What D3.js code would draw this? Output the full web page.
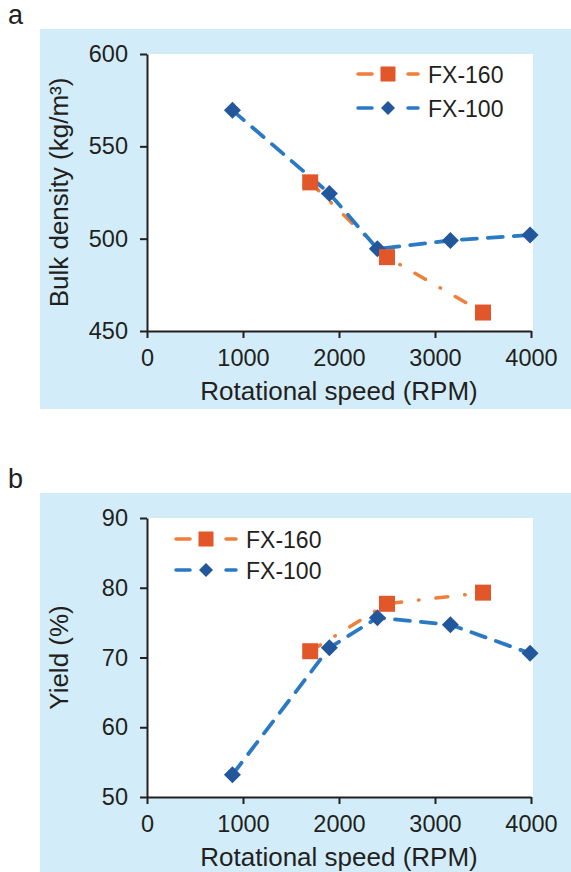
<!DOCTYPE html>
<html>
<head>
<meta charset="utf-8">
<script src="https://cdn.jsdelivr.net/npm/d3@7"></script>
<style>
  html, body { margin: 0; padding: 0; background: #ffffff; }
  svg { display: block; }
  text { font-family: "Liberation Sans", Arial, Helvetica, sans-serif; fill: #231f20; }
</style>
</head>
<body>
<svg id="chart" width="571" height="872"></svg>
<script>
// ---- data ----
const xTicks = [0, 1000, 2000, 3000, 4000];
const densityTicks = [450, 500, 550, 600];
const yieldTicks = [50, 60, 70, 80, 90];
const seriesNames = ["FX-160", "FX-100"];
const fx160Speed = [1700, 2500, 3500];
const fx160Density = [530.5, 490, 460];
const fx160Yield = [70.9, 77.7, 79.3];
const fx100Speed = [890, 1900, 2400, 3160, 3990];
const fx100Density = [569.5, 524.5, 494.5, 499, 502];
const fx100Yield = [53.2, 71.4, 75.7, 74.7, 70.6];

// ---- styles ----
const BG = "#d2edf9";
const AXIS = "#231f20";
const ORANGE_LINE = "#f07f3a";
const ORANGE_MARK = "#e2572a";
const BLUE_LINE = "#2a79c3";
const BLUE_MARK = "#23579b";
const DASH_BLUE = "15,11";
const DASH_ORANGE = "12,17,0.5,17";

const svg = d3.select("#chart");

function drawPanel(cfg) {
  const g = svg.append("g");
  g.append("rect").attr("x", 40).attr("y", cfg.bgTop)
    .attr("width", 531).attr("height", cfg.bgBottom - cfg.bgTop).attr("fill", BG);
  g.append("rect").attr("x", 147).attr("y", cfg.plotTop)
    .attr("width", 386).attr("height", cfg.plotBottom - cfg.plotTop).attr("fill", "#ffffff");

  g.append("text").attr("x", 8).attr("y", cfg.bgTop - 5)
    .style("font-size", "27px").text(cfg.label);

  const x = d3.scaleLinear().domain([0, 4000]).range([147, 531]);
  const y = d3.scaleLinear().domain(cfg.yDomain).range([cfg.plotBottom, cfg.plotTop]);

  const xa = g.append("g").attr("transform", `translate(0,${cfg.plotBottom})`)
    .call(d3.axisBottom(x).tickValues(xTicks).tickFormat(d3.format("d"))
      .tickSize(7).tickSizeOuter(0).tickPadding(11));
  const ya = g.append("g").attr("transform", "translate(147,0)")
    .call(d3.axisLeft(y).tickValues(cfg.yTicks).tickFormat(d3.format("d"))
      .tickSize(7).tickSizeOuter(0).tickPadding(12));
  [xa, ya].forEach(a => {
    a.select(".domain").attr("stroke", AXIS).attr("stroke-width", 2);
    a.selectAll(".tick line").attr("stroke", AXIS).attr("stroke-width", 2);
    a.selectAll(".tick text").style("font-size", "23.5px").attr("fill", AXIS)
      .style("font-family", '"Liberation Sans", Arial, sans-serif');
  });

  g.append("text").attr("x", 339).attr("y", cfg.plotBottom + 69)
    .attr("text-anchor", "middle").style("font-size", "26px").text("Rotational speed (RPM)");
  const cy = (cfg.plotTop + cfg.plotBottom) / 2;
  g.append("text").attr("transform", `translate(68,${cy}) rotate(-90)`)
    .attr("text-anchor", "middle").style("font-size", "26px").text(cfg.yTitle);

  const line = d3.line().x(d => x(d[0])).y(d => y(d[1]));
  const s160 = fx160Speed.map((v, i) => [v, cfg.y160[i]]);
  const s100 = fx100Speed.map((v, i) => [v, cfg.y100[i]]);

  g.append("path").datum(s160).attr("d", line).attr("fill", "none")
    .attr("stroke", ORANGE_LINE).attr("stroke-width", 3.5)
    .attr("stroke-linecap", "round").attr("stroke-dasharray", DASH_ORANGE);
  g.append("path").datum(s100).attr("d", line).attr("fill", "none")
    .attr("stroke", BLUE_LINE).attr("stroke-width", 3.8)
    .attr("stroke-linecap", "round").attr("stroke-dasharray", DASH_BLUE);

  const diamond = (cx, cyy, r) => `M${cx},${cyy - r}L${cx + r},${cyy}L${cx},${cyy + r}L${cx - r},${cyy}Z`;
  g.selectAll(".dia").data(s100).enter().append("path")
    .attr("d", d => diamond(x(d[0]), y(d[1]), 8.5)).attr("fill", BLUE_MARK);
  g.selectAll(".sq").data(s160).enter().append("rect")
    .attr("x", d => x(d[0]) - 8).attr("y", d => y(d[1]) - 8)
    .attr("width", 16).attr("height", 16).attr("fill", ORANGE_MARK);

  // legend
  const L = cfg.legend;
  const rows = [
    { name: seriesNames[0], lc: ORANGE_LINE, mc: ORANGE_MARK, kind: "sq", y: L.y0 },
    { name: seriesNames[1], lc: BLUE_LINE, mc: BLUE_MARK, kind: "dia", y: L.y1 }
  ];
  rows.forEach(r => {
    g.append("line").attr("x1", L.x + 2).attr("x2", L.x + 16).attr("y1", r.y).attr("y2", r.y)
      .attr("stroke", r.lc).attr("stroke-width", 3.5).attr("stroke-linecap", "round");
    g.append("line").attr("x1", L.x + 52).attr("x2", L.x + 62).attr("y1", r.y).attr("y2", r.y)
      .attr("stroke", r.lc).attr("stroke-width", 3.5).attr("stroke-linecap", "round");
    if (r.kind === "sq") {
      g.append("rect").attr("x", L.x + 32 - 7.5).attr("y", r.y - 7.5)
        .attr("width", 15).attr("height", 15).attr("fill", r.mc);
    } else {
      g.append("path").attr("d", diamond(L.x + 32, r.y, 7)).attr("fill", r.mc);
    }
    g.append("text").attr("x", L.x + 72).attr("y", r.y + 8.5)
      .style("font-size", "23px").text(r.name);
  });
}

drawPanel({
  label: "a", bgTop: 29, bgBottom: 409, plotTop: 54, plotBottom: 331,
  yDomain: [450, 600], yTicks: densityTicks, yTitle: "Bulk density (kg/m³)",
  y160: fx160Density, y100: fx100Density,
  legend: { x: 356, y0: 74, y1: 108 }
});
drawPanel({
  label: "b", bgTop: 493, bgBottom: 872, plotTop: 518, plotBottom: 797,
  yDomain: [50, 90], yTicks: yieldTicks, yTitle: "Yield (%)",
  y160: fx160Yield, y100: fx100Yield,
  legend: { x: 174, y0: 539, y1: 570 }
});
</script>
</body>
</html>
